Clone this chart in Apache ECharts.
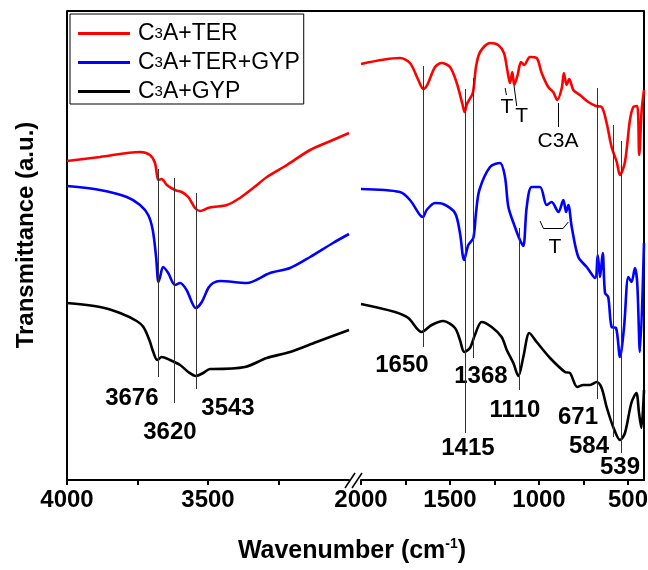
<!DOCTYPE html>
<html>
<head>
<meta charset="utf-8">
<script src="https://cdn.jsdelivr.net/npm/echarts@6/dist/echarts.min.js"></script>
<style>
html, body { margin: 0; padding: 0; background: #fff; }
#chart { width: 648px; height: 570px; }
</style>
</head>
<body>
<div id="chart"></div>
<script>
// series names
const names = ['C3A+TER', 'C3A+TER+GYP', 'C3A+GYP'];
const colors = ['#ff0000', '#0000ff', '#000000'];

// [wavenumber, transmittance (a.u.)] -- left part 4000..3000
const redLeft = [[4000,319],[3883,323],[3741,328],[3706,325],[3688,317],[3676,300],[3664,301],[3646,295],[3617,290],[3593,288],[3570,283],[3546,272],[3528,269],[3500,272],[3482,273],[3433,275],[3387,282],[3340,292],[3291,303],[3220,315],[3138,330],[3057,340],[3000,347]];
const blueLeft = [[4000,294],[3883,290],[3788,283],[3741,275],[3712,265],[3696,250],[3684,223],[3676,198],[3670,203],[3659,213],[3641,207],[3617,195],[3599,197],[3576,190],[3543,172],[3522,178],[3499,192],[3482,197],[3457,199],[3363,197],[3280,207],[3209,212],[3138,223],[3057,237],[3000,246]];
const blackLeft = [[4000,177],[3883,173],[3812,167],[3753,159],[3729,153],[3708,140],[3694,128],[3680,120],[3664,123],[3635,120],[3599,115],[3570,108],[3543,104],[3517,107],[3493,111],[3482,111],[3369,113],[3292,122],[3209,128],[3115,138],[3000,150]];

// right part 2000..410
const redRight = [[2000,416],[1781,422],[1725,417],[1678,400],[1650,391],[1628,395],[1584,413],[1547,417],[1500,413],[1462,397],[1429,375],[1418,368],[1405,376],[1372,387],[1354,413],[1331,428],[1275,437],[1229,435],[1197,427],[1178,410],[1163,397],[1150,408],[1139,395],[1120,405],[1101,418],[1083,415],[1051,423],[1013,422],[985,407],[948,393],[920,388],[897,380],[872,392],[860,407],[845,395],[830,401],[807,390],[770,385],[723,378],[680,374],[648,373],[620,357],[592,333],[563,318],[545,305],[517,318],[489,360],[470,373],[448,374],[437,325],[423,370],[410,390]];
const blueRight = [[2000,291],[1781,288],[1725,280],[1669,265],[1652,263],[1631,270],[1584,277],[1538,276],[1472,267],[1444,247],[1421,220],[1397,235],[1369,242],[1354,267],[1335,290],[1275,313],[1219,317],[1191,303],[1172,273],[1135,253],[1107,240],[1088,234],[1069,273],[1041,293],[994,293],[957,275],[929,278],[891,268],[863,280],[848,268],[835,275],[816,253],[779,223],[732,213],[685,202],[670,225],[657,203],[642,227],[629,187],[611,183],[592,153],[567,152],[545,123],[522,153],[498,203],[480,198],[461,212],[448,197],[433,128],[410,237]];
const blackRight = [[2000,176],[1809,168],[1734,162],[1659,148],[1603,155],[1538,159],[1472,152],[1444,140],[1420,128],[1388,132],[1360,145],[1322,158],[1266,153],[1210,143],[1181,130],[1144,117],[1116,104],[1088,123],[1054,147],[1013,138],[938,122],[854,108],[826,107],[785,93],[751,95],[713,95],[676,98],[648,92],[620,73],[583,53],[545,40],[517,47],[481,77],[453,87],[438,67],[425,52],[410,90]];

// marked bands: wavenumber, line top / bottom, label position
const peakWn = [3676, 3620, 3543, 1650, 1415, 1368, 1110, 671, 584, 539];
const peakTop = [311, 302, 287, 414, 391, 402, 252, 392, 355, 339];
const peakBottom = [103, 77, 91, 133, 47, 122, 90, 81, 43, 27];
const peakLabelAt = [[3770,82],[3635,48],[3429,72],[1770,115],[1399,32],[1326,104],[1135,70],[781,63],[719,34],[545,13]];

// small text notes on the right part
const notes = [
  { text: 'T', at: [1180, 373] },
  { text: 'T', at: [1097, 364] },
  { text: 'C3A', at: [893, 339] },
  { text: 'T', at: [910, 233] }
];
const noteLines = [
  [[1190, 392], [1183, 385]],
  [[1140, 394], [1125, 374]],
  [[893, 377], [893, 353]],
  [[994, 259], [976, 252]],
  [[976, 252], [863, 252]],
  [[863, 252], [835, 258]]
];

const FONT = 'Liberation Sans, Arial, sans-serif';
const chart = echarts.init(document.getElementById('chart'));

const boldText = { fontFamily: FONT, fontWeight: 'bold', fontSize: 24, color: '#000' };

const curve = (name, idx, data, color) => ({
  name: name,
  type: 'line',
  xAxisIndex: idx,
  yAxisIndex: idx,
  data: data,
  symbol: 'none',
  smooth: 0.3,
  color: color,
  lineStyle: { color: color, width: 2.6 },
  animation: false,
  z: 3
});

const peakSeries = (idx, keep) => {
  const ids = peakWn.map((w, i) => i).filter(i => keep(peakWn[i]));
  return {
    type: 'scatter',
    xAxisIndex: idx,
    yAxisIndex: idx,
    symbolSize: 0,
    itemStyle: { color: '#000' },
    silent: true,
    animation: false,
    data: ids.map(i => ({ name: String(peakWn[i]), value: peakLabelAt[i] })),
    label: {
      show: true, position: 'inside', formatter: p => p.name,
      opacity: 1, textBorderWidth: 0, ...boldText
    },
    markLine: {
      symbol: ['none', 'none'],
      silent: true,
      animation: false,
      label: { show: false },
      lineStyle: { color: '#333', width: 1, type: 'solid', opacity: 1 },
      data: ids.map(i => [{ coord: [peakWn[i], peakTop[i]] }, { coord: [peakWn[i], peakBottom[i]] }])
    },
    z: 4
  };
};

const tickStyle = { color: '#000', width: 2 };

chart.setOption({
  backgroundColor: '#fff',
  animation: false,
  grid: [
    { left: 67, top: 11, width: 282, height: 469, containLabel: false, outerBoundsMode: 'none' },
    { left: 361, top: 11, width: 283, height: 469, containLabel: false, outerBoundsMode: 'none' }
  ],
  xAxis: [
    {
      gridIndex: 0, type: 'value', min: 3000, max: 4000, inverse: true,
      axisLine: { show: true, lineStyle: tickStyle },
      axisTick: { show: true, length: 5, lineStyle: tickStyle, customValues: [4000, 3750, 3500, 3250] },
      axisLabel: { customValues: [4000, 3500], margin: 8, formatter: v => String(v), ...boldText },
      splitLine: { show: false }
    },
    {
      gridIndex: 1, type: 'value', min: 410, max: 2000, inverse: true,
      axisLine: { show: true, lineStyle: tickStyle },
      axisTick: { show: true, length: 5, lineStyle: tickStyle, customValues: [2000, 1750, 1500, 1250, 1000, 750, 500] },
      axisLabel: { customValues: [2000, 1500, 1000, 500], margin: 8, formatter: v => String(v), ...boldText },
      splitLine: { show: false }
    }
  ],
  yAxis: [
    {
      gridIndex: 0, type: 'value', min: 0, max: 469,
      axisLine: { show: true, lineStyle: tickStyle },
      axisTick: { show: false }, axisLabel: { show: false }, splitLine: { show: false }
    },
    {
      gridIndex: 1, type: 'value', min: 0, max: 469, position: 'right',
      axisLine: { show: true, lineStyle: tickStyle },
      axisTick: { show: false }, axisLabel: { show: false }, splitLine: { show: false }
    }
  ],
  legend: {
    left: 70, top: 14, orient: 'vertical',
    data: names,
    icon: 'rect', itemWidth: 52, itemHeight: 3, itemGap: 6,
    padding: [8, 4, 1, 8],
    borderColor: '#000', borderWidth: 1,
    formatter: n => '{n|C}{s|3}{n|' + n.slice(2) + '}',
    textStyle: {
      padding: [0, 0, 0, 3],
      rich: {
        n: { fontFamily: FONT, fontSize: 23, color: '#000', lineHeight: 21 },
        s: { fontFamily: FONT, fontSize: 15, color: '#000', lineHeight: 21 }
      }
    }
  },
  graphic: [
    { type: 'line', shape: { x1: 67, y1: 11, x2: 644, y2: 11 }, style: { stroke: '#000', lineWidth: 2 } },
    { type: 'rect', shape: { x: 350, y: 470, width: 10, height: 20 }, style: { fill: '#fff' } },
    { type: 'line', shape: { x1: 345, y1: 488, x2: 355, y2: 473 }, style: { stroke: '#000', lineWidth: 1.5 } },
    { type: 'line', shape: { x1: 352, y1: 488, x2: 362, y2: 473 }, style: { stroke: '#000', lineWidth: 1.5 } },
    {
      type: 'text', x: 352, y: 551,
      style: {
        text: '{b|Wavenumber (cm}{u|-1}{b|)}',
        textAlign: 'center', textVerticalAlign: 'middle',
        rich: {
          b: { fontFamily: FONT, fontWeight: 'bold', fontSize: 25, fill: '#000', lineHeight: 28 },
          u: { fontFamily: FONT, fontWeight: 'bold', fontSize: 14, fill: '#000', lineHeight: 28, verticalAlign: 'top' }
        }
      }
    },
    {
      type: 'text', x: 26, y: 235, rotation: Math.PI / 2,
      style: {
        text: 'Transmittance (a.u.)',
        textAlign: 'center', textVerticalAlign: 'middle',
        fontFamily: FONT, fontWeight: 'bold', fontSize: 24, fill: '#000'
      }
    }
  ],
  series: [
    curve(names[0], 0, redLeft, colors[0]),
    curve(names[1], 0, blueLeft, colors[1]),
    curve(names[2], 0, blackLeft, colors[2]),
    curve(names[0], 1, redRight, colors[0]),
    curve(names[1], 1, blueRight, colors[1]),
    curve(names[2], 1, blackRight, colors[2]),
    peakSeries(0, w => w > 2500),
    peakSeries(1, w => w < 2500),
    {
      type: 'scatter', xAxisIndex: 1, yAxisIndex: 1,
      symbolSize: 0, itemStyle: { color: '#000' },
      silent: true, animation: false,
      data: notes.map(n => ({ name: n.text, value: n.at })),
      label: {
        show: true, position: 'inside', formatter: p => p.name,
        opacity: 1, textBorderWidth: 0,
        fontFamily: FONT, fontSize: 21, color: '#000'
      },
      markLine: {
        symbol: ['none', 'none'], silent: true, animation: false,
        label: { show: false },
        lineStyle: { color: '#000', width: 1, type: 'solid', opacity: 1 },
        data: noteLines.map(s => [{ coord: s[0] }, { coord: s[1] }])
      },
      z: 4
    }
  ]
});
</script>
</body>
</html>
